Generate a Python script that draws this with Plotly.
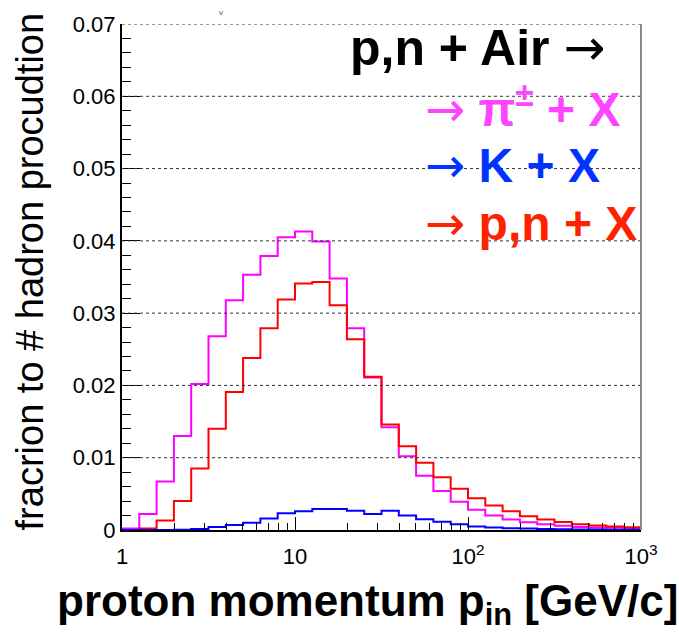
import numpy as np
import plotly.graph_objects as go

# bin edges: 10 log bins per decade from 1 to 1000 GeV/c
bin_edges = list(np.logspace(0, 3, 31))

pion_frac = [0.0002, 0.0022, 0.0067, 0.0130, 0.0202, 0.0268, 0.0318, 0.0353, 0.0379, 0.0405,
             0.0413, 0.0399, 0.0348, 0.0279, 0.0211, 0.0142, 0.0102, 0.0075, 0.0054, 0.0039,
             0.0028, 0.0020, 0.00144, 0.00108, 0.0008, 0.00058, 0.0004, 0.00035, 0.0003, 0.00025]
nucleon_frac = [0.0, 0.0002, 0.0013, 0.0040, 0.0085, 0.0140, 0.0191, 0.0238, 0.0279, 0.0319,
                0.0341, 0.0343, 0.0311, 0.0264, 0.0212, 0.0146, 0.0116, 0.0093, 0.0073, 0.0057,
                0.0044, 0.0034, 0.0026, 0.0019, 0.00144, 0.00112, 0.00081, 0.00063, 0.0005, 0.00037]
kaon_frac = [0.0, 0.0, 0.0, 0.00003, 0.00015, 0.0004, 0.0007, 0.0010, 0.0016, 0.0023,
             0.0026, 0.0029, 0.0029, 0.00267, 0.00223, 0.00267, 0.0020, 0.0015, 0.00115, 0.0008,
             0.0005, 0.00033, 0.00025, 0.0002, 0.00015, 0.0001, 0.00008, 0.00006, 0.00005, 0.00004]

x_tickvals = [1, 10, 100, 1000]
x_ticktext = ["1", "10", "10<sup>2</sup>", "10<sup>3</sup>"]
y_grid_vals = [0.01, 0.02, 0.03, 0.04, 0.05, 0.06, 0.07]

FONT = "Liberation Sans, Arial, Helvetica, sans-serif"
ARROW = "<span style='font-family:DejaVu Sans;font-weight:normal'>→</span>"

W, H = 679, 635
L, R, T, B = 122, 37.5, 15, 104.5
pw, ph = W - L - R, H - T - B


def px(xp):
    return (xp - L) / pw


def py(yp):
    return (H - B - yp) / ph


fig = go.Figure()
for vals, col in [(pion_frac, "#ff00ff"), (nucleon_frac, "#ff0000"), (kaon_frac, "#0000ff")]:
    fig.add_trace(go.Scatter(x=bin_edges, y=vals + [vals[-1]], mode="lines",
                             line=dict(shape="hv", color=col, width=2),
                             showlegend=False, hoverinfo="skip"))

fig.update_layout(
    width=W, height=H,
    margin=dict(l=L, r=R, t=T, b=B),
    paper_bgcolor="white", plot_bgcolor="white",
    showlegend=False,
)
fig.update_xaxes(
    type="log", range=[0, 3],
    tickvals=x_tickvals, ticktext=x_ticktext,
    ticks="inside", ticklen=13, tickcolor="black",
    minor=dict(ticks="inside", ticklen=7, tickcolor="black", dtick="D1"),
    showline=True, linecolor="black", linewidth=2,
    tickfont=dict(size=22, family=FONT, color="black"),
    ticklabelstandoff=6,
)
fig.update_yaxes(
    range=[0, 0.07], dtick=0.01,
    ticks="inside", ticklen=18, tickcolor="black",
    minor=dict(ticks="inside", ticklen=9, tickcolor="black", dtick=0.002),
    showline=True, linecolor="black", linewidth=2,
    tickfont=dict(size=22, family=FONT, color="black"),
)

# dotted horizontal grid (incl. top frame) and grey right frame
for gv in y_grid_vals:
    fig.add_shape(type="line", xref="paper", yref="y", x0=0, x1=1, y0=gv, y1=gv,
                  line=dict(color="#333333", width=1, dash="dot"))
fig.add_shape(type="line", xref="paper", yref="paper", x0=1, x1=1, y0=0, y1=1,
              line=dict(color="#888888", width=2))

ann = []
# axis titles
ann.append(dict(text="<b>proton momentum p<sub>in</sub> [GeV/c]</b>", x=px(368), y=py(606),
                xref="paper", yref="paper", xanchor="center", yanchor="middle", showarrow=False,
                font=dict(size=44, family=FONT, color="black")))
ann.append(dict(text="fracrion to # hadron procudtion", x=px(30), y=py(267),
                xref="paper", yref="paper", xanchor="center", yanchor="middle", showarrow=False,
                textangle=-90, font=dict(size=38, family=FONT, color="black")))
# legend-like texts
ann.append(dict(text="<b>p,n + Air</b> " + ARROW, x=px(607), y=py(39), xref="paper", yref="paper",
                xanchor="right", yanchor="middle", showarrow=False,
                font=dict(size=50, family=FONT, color="black")))
for txt, col, yc in [("<b>π<sup>±</sup> + X</b>", "#ff44ff", 99),
                     ("<b>K + X</b>", "#0033ff", 159),
                     ("<b>p,n + X</b>", "#ff2200", 218)]:
    ann.append(dict(text=ARROW + " " + txt, x=px(423), y=py(yc), xref="paper", yref="paper",
                    xanchor="left", yanchor="middle", showarrow=False,
                    font=dict(size=48, family=FONT, color=col)))
# small clipped text fragment at top edge
ann.append(dict(text="v", x=px(221), y=py(3), xref="paper", yref="paper",
                xanchor="center", yanchor="middle", showarrow=False,
                font=dict(size=8, family=FONT, color="#555555")))
fig.update_layout(annotations=ann)

fig.write_html("out.html")
